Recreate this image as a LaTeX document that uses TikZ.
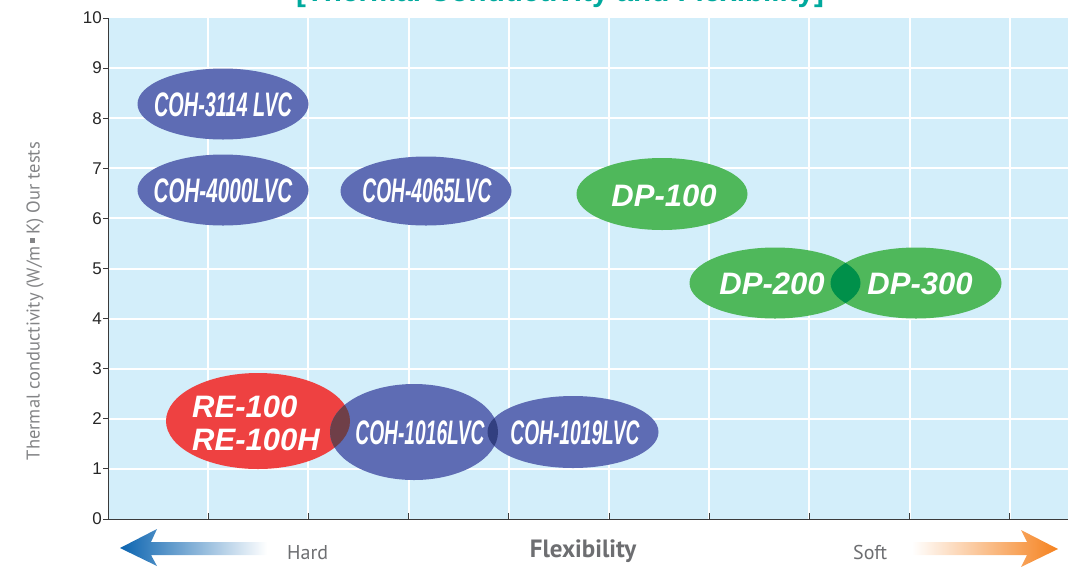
\documentclass[tikz,border=0pt]{standalone}
\usepackage{fontspec}
\setmainfont{Liberation Sans}
\newfontfamily\ptsans{PT Sans}
\usepackage{graphicx}
\definecolor{plotbg}{HTML}{D3EEFA}
\definecolor{cohblue}{HTML}{5E6CB4}
\definecolor{rered}{HTML}{EE4141}
\definecolor{dpgreen}{HTML}{4FB85B}
\definecolor{ovred}{HTML}{6F3F48}
\definecolor{ovblue}{HTML}{323F80}
\definecolor{ovgreen}{HTML}{00904A}
\definecolor{axisgray}{HTML}{3A3A3A}
\definecolor{labelgray}{HTML}{6D6E71}
\definecolor{titleteal}{HTML}{00A99D}
\definecolor{arrowblue}{HTML}{0B64B0}
\definecolor{arroworange}{HTML}{F5821F}
\newcommand{\cohtext}[2]{\scalebox{#1}[1]{#2}}
\begin{document}
\begin{tikzpicture}[x=1pt,y=-1pt,
  gridline/.style={white,line width=2pt},
  axisline/.style={axisgray,line width=0.9pt},
  ticklabel/.style={anchor=east,inner sep=0pt,text=black!85,font=\fontsize{17}{17}\selectfont},
  coh/.style={text=white,inner sep=0pt,font=\fontsize{34}{34}\selectfont\bfseries\itshape},
  dp/.style={text=white,inner sep=0pt,font=\fontsize{31}{33}\selectfont\bfseries\itshape},
  side/.style={text=labelgray,inner sep=0pt,font=\ptsans\fontsize{20}{20}\selectfont},
]
\useasboundingbox (0,0) rectangle (1068,566);
% title (partly outside the page)
\node[anchor=base,inner sep=0pt,text=titleteal,font=\fontsize{29.6}{30}\selectfont\bfseries] (title) at (560,1.5) {[Thermal Conductivity and Flexibility]};
% plot area
\fill[plotbg] (108,18) rectangle (1068,519);
\foreach \k in {1,...,9} \draw[gridline] ({108+100.2*\k},18) -- ({108+100.2*\k},519);
\foreach \v in {1,...,9} \draw[gridline] (108,{519-50.1*\v}) -- (1068,{519-50.1*\v});
\draw[axisline] (108,18) -- (108,519) -- (1068,519);
\foreach \v in {0,...,10} {
  \draw[axisline] (103,{519-50.1*\v}) -- (108,{519-50.1*\v});
  \node[ticklabel] (tick\v) at (102,{519-50.1*\v}) {\v};
}
\foreach \k in {1,...,9} \draw[axisline] ({108+100.2*\k},519) -- ({108+100.2*\k},513);
% axis title
\node[rotate=90,inner sep=0pt,text=labelgray!85,font=\ptsans\fontsize{18.5}{18.5}\selectfont] (ytitle) at (35,301) {Thermal conductivity (W/m\,\rule[0.22em]{0.3em}{0.3em}\,K) Our tests};
% ellipses
\fill[cohblue] (223,104) ellipse [x radius=85.5pt, y radius=35.5pt];
\fill[cohblue] (223,190) ellipse [x radius=85.5pt, y radius=35.5pt];
\fill[cohblue] (426,191) ellipse [x radius=85.5pt, y radius=34.5pt];
\fill[dpgreen] (662,194) ellipse [x radius=85.5pt, y radius=36pt];
\fill[dpgreen] (775,283) ellipse [x radius=85.5pt, y radius=35.5pt];
\fill[dpgreen] (916,283) ellipse [x radius=85.5pt, y radius=35.5pt];
\fill[rered] (258,421) ellipse [x radius=92pt, y radius=48pt];
\fill[cohblue] (414,432) ellipse [x radius=84pt, y radius=48pt];
\fill[cohblue] (573,432) ellipse [x radius=85.5pt, y radius=36pt];
% overlaps
\begin{scope}
  \clip (258,421) ellipse [x radius=92pt, y radius=48pt];
  \fill[ovred] (414,432) ellipse [x radius=84pt, y radius=48pt];
\end{scope}
\begin{scope}
  \clip (414,432) ellipse [x radius=84pt, y radius=48pt];
  \fill[ovblue] (573,432) ellipse [x radius=85.5pt, y radius=36pt];
\end{scope}
\begin{scope}
  \clip (775,283) ellipse [x radius=85.5pt, y radius=35.5pt];
  \fill[ovgreen] (916,283) ellipse [x radius=85.5pt, y radius=35.5pt];
\end{scope}
% labels
\node[coh] (c3114) at (223,105) {\cohtext{0.585}{COH-3114 LVC}};
\node[coh] (c4000) at (223,191) {\cohtext{0.607}{COH-4000LVC}};
\node[coh] (c4065) at (427,191) {\cohtext{0.565}{COH-4065LVC}};
\node[coh] (c1016) at (420,433) {\cohtext{0.565}{COH-1016LVC}};
\node[coh] (c1019) at (575,433) {\cohtext{0.565}{COH-1019LVC}};
\node[dp] (dp100) at (664,196) {DP-100};
\node[dp] (dp200) at (772,284) {DP-200};
\node[dp] (dp300) at (920,284) {DP-300};
\node[dp,align=left,anchor=base west] (re100) at (192,450) {RE-100\\RE-100H};
% bottom arrows
\shade[left color=arrowblue,right color=white] (120,548) -- (157,529) -- (151,542) -- (267,542) -- (267,555) -- (151,555) -- (157,566) -- cycle;
\shade[left color=white,right color=arroworange] (912,542) -- (1027,542) -- (1021,530) -- (1058,549) -- (1021,567) -- (1027,555) -- (912,555) -- cycle;
\node[side,anchor=base west] (hard) at (287,559) {Hard};
\node[side,anchor=base west] (soft) at (853,559) {Soft};
\node[inner sep=0pt,anchor=base,text=labelgray,font=\ptsans\fontsize{25}{25}\selectfont\bfseries] (flex) at (583,557) {Flexibility};
\end{tikzpicture}
\end{document}
